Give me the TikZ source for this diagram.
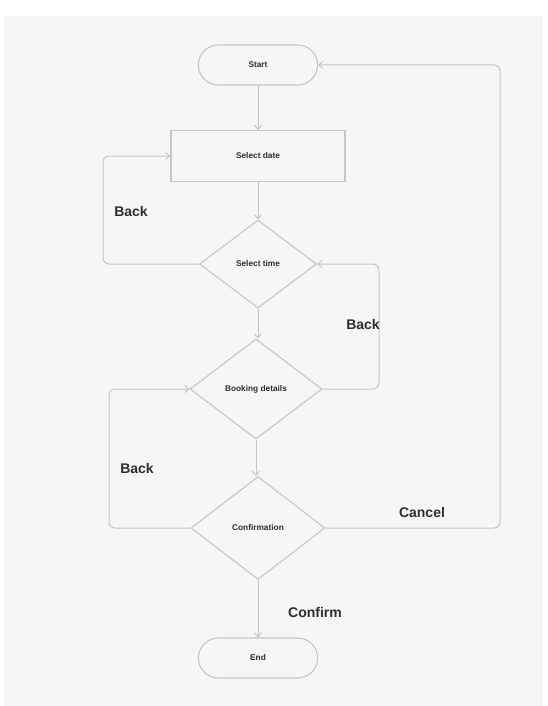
\documentclass[tikz,border=0pt]{standalone}
\usepackage{fontspec}
\setmainfont{Liberation Sans}
\usetikzlibrary{shapes.geometric,shapes.misc,arrows.meta}
\definecolor{panel}{HTML}{F6F6F6}
\definecolor{edge}{HTML}{C6C6C6}
\definecolor{ink}{HTML}{2E2E2E}
\definecolor{dotc}{HTML}{D8D8D8}
\tikzset{
  base/.style={draw=edge, line width=1.1pt, text=ink, font=\fontsize{8.3}{9}\selectfont\bfseries, fill=panel},
  term/.style={base, rounded rectangle, minimum width=126pt, minimum height=40pt},
  proc/.style={base, rectangle, minimum width=174pt, minimum height=51pt},
  dec/.style={base, diamond, aspect=1.33, inner sep=0pt},
  conn/.style={draw=edge, line width=1pt, -{Straight Barb[length=4pt,width=7pt]}, rounded corners=6pt},
  lab/.style={text=ink, font=\fontsize{14}{16}\selectfont\bfseries}
}
\begin{document}
\begin{tikzpicture}[x=1pt,y=-1pt]
\useasboundingbox (0,0) rectangle (548,706);
\fill[white] (0,0) rectangle (548,706);
\foreach \i in {0,...,49} {
  \fill[dotc] (4+11*\i,4.5) circle (0.5pt);
}
\foreach \j in {0,...,63} {
  \fill[dotc] (545.5,4+11*\j) circle (0.5pt);
}
\fill[panel] (4,16) rectangle (543,706);

\node[term] (start) at (258,65) {Start};
\node[proc] (date) at (258,156) {Select date};
\node[dec, minimum width=117pt, minimum height=88pt] (time) at (258,264) {Select time};
\node[dec, minimum width=132pt, minimum height=100pt] (book) at (256,389) {Booking details};
\node[dec, minimum width=134pt, minimum height=103pt] (conf) at (258,528) {Confirmation};
\node[term] (end) at (258,658) {End};

\draw[conn] (start.south) -- (date.north);
\draw[conn] (date.south) -- (time.north);
\draw[conn] (time.south) -- (time.south |- book.north);
\draw[conn] (book.south) -- (book.south |- conf.north);
\draw[conn] (conf.south) -- (end.north);

\coordinate (b1) at (103,0);
\coordinate (b2) at (379,0);
\coordinate (b3) at (109,0);
\coordinate (c1) at (500,0);
\draw[conn] (time.west) -- (time.west -| b1) -- (date.west -| b1) -- (date.west);
\draw[conn] (book.east) -- (book.east -| b2) -- (time.east -| b2) -- (time.east);
\draw[conn] (conf.west) -- (conf.west -| b3) -- (book.west -| b3) -- (book.west);
\draw[conn] (conf.east) -- (conf.east -| c1) -- (start.east -| c1) -- (start.east);

\node[lab] (l1) at (131,211) {Back};
\node[lab] (l2) at (363,324) {Back};
\node[lab] (l3) at (137,468) {Back};
\node[lab] (l4) at (422,512) {Cancel};
\node[lab] (l5) at (315,612) {Confirm};
\end{tikzpicture}
\end{document}
